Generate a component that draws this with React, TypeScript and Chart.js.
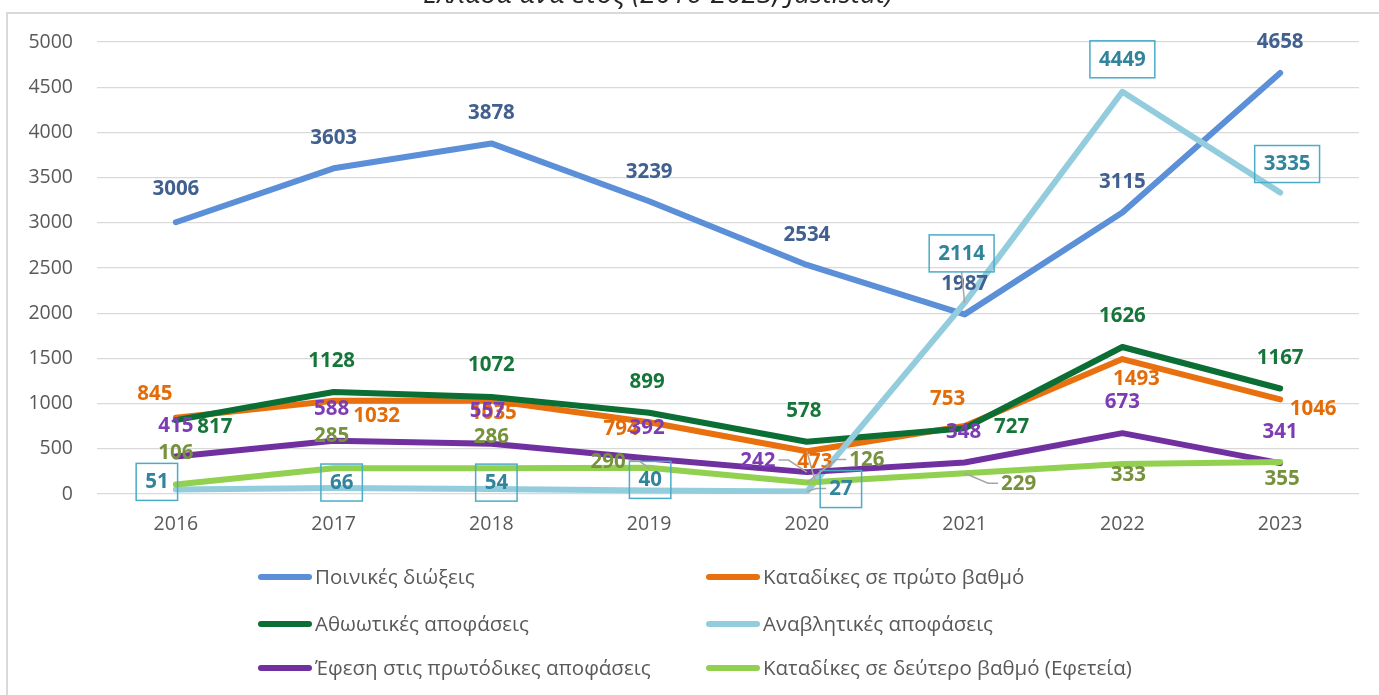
import React, { useEffect, useRef } from "react";
import { Chart, registerables } from "chart.js";

Chart.register(...registerables);

const years = ["2016", "2017", "2018", "2019", "2020", "2021", "2022", "2023"];

const prosecutions = [3006, 3603, 3878, 3239, 2534, 1987, 3115, 4658];
const firstInstanceConvictions = [845, 1032, 1035, 794, 473, 753, 1493, 1046];
const acquittals = [817, 1128, 1072, 899, 578, 727, 1626, 1167];
const postponements = [51, 66, 54, 40, 27, 2114, 4449, 3335];
const appeals = [415, 588, 557, 392, 242, 348, 673, 341];
const secondInstanceConvictions = [106, 285, 286, 290, 126, 229, 333, 355];

const seriesNames = [
  "Ποινικές διώξεις",
  "Καταδίκες σε πρώτο βαθμό",
  "Αθωωτικές αποφάσεις",
  "Αναβλητικές αποφάσεις",
  "Έφεση στις πρωτόδικες αποφάσεις",
  "Καταδίκες σε δεύτερο βαθμό (Εφετεία)",
];

const yTicks = [0, 500, 1000, 1500, 2000, 2500, 3000, 3500, 4000, 4500, 5000];

const titleText = "Ελλάδα ανά έτος (2016-2023, Justistat)";

// styling
const lineColors = ["#5B8FD7", "#E8700E", "#0B6E35", "#93CDDD", "#7030A0", "#92D050"];
const labelColors = ["#41608F", "#E36C09", "#16763A", "#31849B", "#7E3CB4", "#76923C"];

// label offsets [dx, dy] from the data point (placement only)
const labelOffsets: number[][][] = [
  [[0, -34], [0, -31], [0, -31], [0, -30], [0, -31], [0, -31], [0, -31], [0, -32]],
  [[-21, -24], [43, 14], [2, 12], [-28, 6], [8, 10], [-17, -28], [14, 19], [33, 9]],
  [[39, 6], [-2, -32], [0, -33], [-2, -32], [-3, -32], [47, -2], [0, -32], [0, -31]],
  [[-19, -8], [8, -6], [5, -7], [1, -11], [34, -3], [-3, -50], [0, -33], [7, -29]],
  [[0, -31], [-2, -33], [-4, -33], [-2, -31], [-49, -12], [-1, -31], [0, -32], [0, -32]],
  [[0, -32], [-2, -33], [0, -32], [-41, -7], [60, -23], [54, 10], [6, 10], [2, 16]],
];
const leaderFlags: boolean[][] = [
  [false, false, false, false, false, false, false, false],
  [false, false, false, false, true, false, false, false],
  [false, false, false, false, false, false, false, false],
  [false, false, false, false, true, true, false, false],
  [false, false, false, false, true, false, false, false],
  [false, false, false, true, true, true, false, false],
];

const FONT = "'Open Sans', 'Noto Sans', sans-serif";

const overlayPlugin = {
  id: "overlay",
  afterDatasetsDraw(chart: any) {
    const ctx = chart.ctx as CanvasRenderingContext2D;
    ctx.save();
    ctx.font = `bold 20.5px ${FONT}`;
    ctx.textAlign = "center";
    ctx.textBaseline = "middle";
    chart.data.datasets.forEach((ds: any, si: number) => {
      const meta = chart.getDatasetMeta(si);
      meta.data.forEach((pt: any, i: number) => {
        const [dx, dy] = labelOffsets[si][i];
        const lx = pt.x + dx;
        const ly = pt.y + dy;
        const text = String(ds.data[i]);
        const w = ctx.measureText(text).width;
        if (leaderFlags[si][i]) {
          ctx.strokeStyle = "#A6A6A6";
          ctx.lineWidth = 1.5;
          ctx.beginPath();
          if (Math.abs(dx) < 10) {
            ctx.moveTo(lx, ly + 19);
            ctx.lineTo(pt.x, pt.y);
          } else {
            const sx = dx > 0 ? lx - w / 2 - 3 : lx + w / 2 + 3;
            const ex = dx > 0 ? sx - 10 : sx + 10;
            ctx.moveTo(sx, ly);
            ctx.lineTo(ex, ly);
            ctx.lineTo(pt.x, pt.y);
          }
          ctx.stroke();
        }
        if (si === 3) {
          ctx.strokeStyle = "#4BACC6";
          ctx.lineWidth = 1.5;
          ctx.strokeRect(lx - w / 2 - 9, ly - 18, w + 18, 37);
        }
        ctx.fillStyle = labelColors[si];
        ctx.fillText(text, lx, ly + 1);
      });
    });
    ctx.restore();
  },
  afterDraw(chart: any) {
    const ctx = chart.ctx as CanvasRenderingContext2D;
    ctx.save();
    // frame
    ctx.strokeStyle = "#D9D9D9";
    ctx.lineWidth = 2;
    ctx.beginPath();
    ctx.moveTo(7, chart.height);
    ctx.lineTo(7, 13);
    ctx.lineTo(chart.width, 13);
    ctx.stroke();
    // title (cut off at top)
    ctx.font = `italic 28px ${FONT}`;
    ctx.fillStyle = "#262626";
    ctx.textAlign = "center";
    ctx.textBaseline = "alphabetic";
    ctx.fillText(titleText, 658, 3);
    // legend
    const cols = [258, 706];
    const rows = [577, 624, 668];
    ctx.font = `20.5px ${FONT}`;
    ctx.textAlign = "left";
    ctx.textBaseline = "middle";
    chart.data.datasets.forEach((ds: any, i: number) => {
      const x = cols[i % 2];
      const y = rows[Math.floor(i / 2)];
      ctx.strokeStyle = ds.borderColor;
      ctx.lineWidth = 6;
      ctx.lineCap = "round";
      ctx.beginPath();
      ctx.moveTo(x + 3, y);
      ctx.lineTo(x + 51, y);
      ctx.stroke();
      ctx.fillStyle = "#595959";
      ctx.fillText(ds.label, x + 57, y + 1);
    });
    ctx.restore();
  },
};

export default function App() {
  const ref = useRef<HTMLCanvasElement | null>(null);
  useEffect(() => {
    if (!ref.current) return;
    const seriesData = [
      prosecutions,
      firstInstanceConvictions,
      acquittals,
      postponements,
      appeals,
      secondInstanceConvictions,
    ];
    const chart = new Chart(ref.current, {
      type: "line",
      data: {
        labels: years,
        datasets: seriesData.map((d, i) => ({
          label: seriesNames[i],
          data: d,
          borderColor: lineColors[i],
          backgroundColor: lineColors[i],
          borderWidth: 6,
          pointRadius: 0,
          pointHoverRadius: 0,
          borderJoinStyle: "round" as const,
          borderCapStyle: "round" as const,
          tension: 0,
          order: 5 - i,
        })),
      },
      options: {
        animation: false,
        responsive: false,
        events: [],
        layout: { padding: { left: 0, right: 20, top: 42, bottom: 0 } },
        plugins: {
          legend: { display: false },
          title: { display: false },
          tooltip: { enabled: false },
        },
        scales: {
          x: {
            offset: true,
            grid: { display: false, drawTicks: false },
            border: { display: false },
            ticks: {
              color: "#595959",
              font: { family: FONT, size: 19.5 },
              padding: 19,
              maxRotation: 0,
            },
            afterFit: (s: any) => {
              s.height = 201;
            },
          },
          y: {
            min: 0,
            max: 5000,
            afterBuildTicks: (s: any) => {
              s.ticks = yTicks.map((v) => ({ value: v }));
            },
            grid: { color: "#D9D9D9", lineWidth: 1.3, drawTicks: false },
            border: { display: false },
            ticks: {
              color: "#595959",
              font: { family: FONT, size: 19.5 },
              padding: 24,
              callback: (v: any) => String(v),
            },
            afterFit: (s: any) => {
              s.width = 97;
            },
          },
        },
      },
      plugins: [overlayPlugin],
    });
    return () => chart.destroy();
  }, []);
  return (
    <div style={{ position: "fixed", left: 0, top: 0, width: 1379, height: 695, background: "#fff" }}>
      <canvas ref={ref} width={1379} height={695} style={{ display: "block" }} />
    </div>
  );
}
